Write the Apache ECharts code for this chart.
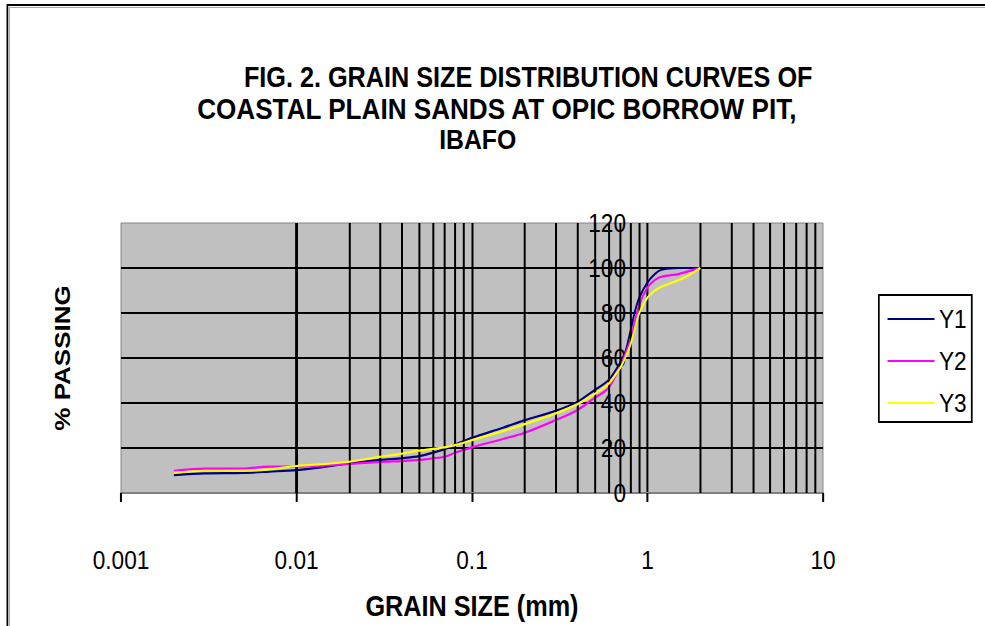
<!DOCTYPE html>
<html>
<head>
<meta charset="utf-8">
<script src="https://cdn.jsdelivr.net/npm/echarts@6/dist/echarts.min.js"></script>
<style>
html,body{margin:0;padding:0;background:#fff;}
#wrap{width:985px;height:626px;overflow:hidden;position:relative;}
#chart{width:1132px;height:626px;transform:scaleX(0.87014);transform-origin:0 0;}
</style>
</head>
<body>
<div id="wrap"><div id="chart"></div></div>
<script>
// grain sizes (mm)
var sizes = [0.002, 0.003, 0.005, 0.007, 0.01, 0.015, 0.02, 0.03, 0.04, 0.05, 0.07, 0.08, 0.1, 0.15, 0.2, 0.3, 0.4, 0.5, 0.6, 0.7, 0.75, 0.8, 0.85, 0.9, 1.0, 1.1, 1.2, 1.5, 1.7, 2.0];
// % passing
var y1 = [7.9, 8.7, 8.9, 9.5, 10.2, 11.8, 13.2, 14.7, 15.5, 16.4, 19.5, 21.5, 24.5, 29.0, 32.4, 36.5, 40.6, 45.8, 50.2, 58.0, 63.0, 72.0, 81.0, 87.0, 93.6, 97.3, 99.2, 100, 100, 100];
var y2 = [9.9, 10.8, 10.9, 11.7, 11.7, 12.3, 12.9, 13.8, 14.2, 14.7, 16.1, 17.9, 20.3, 24.0, 26.8, 32.4, 36.9, 42.3, 46.7, 56.4, 62.0, 68.3, 76.5, 84.0, 91.4, 94.6, 96.1, 97.3, 98.5, 100];
var y3 = [9.0, 9.9, 9.9, 10.5, 12.0, 13.0, 13.9, 16.1, 17.5, 18.8, 20.3, 21.3, 23.5, 27.5, 30.6, 35.4, 39.5, 44.0, 48.5, 55.7, 60.5, 66.0, 73.5, 80.2, 86.9, 89.9, 91.7, 94.6, 96.6, 100];
var seriesNames = ['Y1', 'Y2', 'Y3'];
var titleLines = ['FIG. 2. GRAIN SIZE DISTRIBUTION CURVES OF', 'COASTAL PLAIN SANDS AT OPIC BORROW PIT,', 'IBAFO'];
var xName = 'GRAIN SIZE (mm)';
var yName = '% PASSING';
// minor vertical gridlines of the log axis
var minorGrid = [0.002,0.003,0.004,0.005,0.006,0.007,0.008,0.009,
                 0.02,0.03,0.04,0.05,0.06,0.07,0.08,0.09,
                 0.2,0.3,0.4,0.5,0.6,0.7,0.8,0.9,
                 2,3,4,5,6,7,8,9];

var FONT = "'Liberation Sans',Arial,sans-serif";
var colors = ['#000080', '#ff00ff', '#ffff00'];
var ySets = [y1, y2, y3];

function pairs(ys){ return sizes.map(function(s,i){ return [s, ys[i]]; }); }

var chart = echarts.init(document.getElementById('chart'), null, {renderer:'svg'});
var series = [{
  name: '_grid', type: 'line', data: [], z: 1, silent: true,
  markLine: {
    silent: true, symbol: ['none','none'], animation: false,
    label: {show:false},
    lineStyle: {color:'#000', width:2.3, type:'solid'},
    data: minorGrid.map(function(v){ return {xAxis: v}; })
  }
}];
seriesNames.forEach(function(n, i){
  series.push({
    name: n, type: 'line', data: pairs(ySets[i]), z: 3 + i,
    symbol: 'none', smooth: 0.3,
    lineStyle: {color: colors[i], width: 2.2},
    itemStyle: {color: colors[i]}
  });
});

chart.setOption({
  animation: false,
  backgroundColor: '#fff',
  title: [
    {text: titleLines[0], left: 607, top: 63, padding: 0, textAlign: 'center',
     textStyle:{fontFamily:FONT, fontWeight:'bold', fontSize:29, lineHeight:28, color:'#000'}},
    {text: titleLines[1], left: 571, top: 94, padding: 0, textAlign: 'center',
     textStyle:{fontFamily:FONT, fontWeight:'bold', fontSize:30, lineHeight:29, color:'#000'}},
    {text: titleLines[2], left: 549, top: 125, padding: 0, textAlign: 'center',
     textStyle:{fontFamily:FONT, fontWeight:'bold', fontSize:28.5, lineHeight:28, color:'#000'}}
  ],
  graphic: [
    {type:'rect', shape:{x:8.5, y:5, width:1300, height:800}, style:{fill:null, stroke:'#000', lineWidth:2}},
    {type:'rect', shape:{x:11, y:7.5, width:1300, height:800}, style:{fill:null, stroke:'#a0a0a0', lineWidth:1}}
  ],
  legend: {
    data: seriesNames, orient: 'vertical', left: 1010, top: 295,
    padding: [11, 6, 6, 10], itemGap: 16, itemWidth: 54, itemHeight: 2,
    icon: 'rect',
    backgroundColor: '#fff', borderColor: '#000', borderWidth: 2,
    textStyle: {fontFamily: FONT, fontSize: 26, color:'#000', lineHeight: 24}
  },
  grid: {left: 139.1, right: 186.2, top: 223, bottom: 133, show: true,
         backgroundColor: '#c0c0c0', borderColor: '#808080', borderWidth: 1},
  xAxis: {
    type: 'log', logBase: 10, min: 0.001, max: 10,
    name: xName, nameLocation: 'middle', nameGap: 98,
    nameTextStyle: {fontFamily: FONT, fontWeight:'bold', fontSize: 29, color:'#000'},
    axisLine: {show: true, onZero: false, lineStyle: {color: '#808080', width: 2}},
    axisTick: {show: true, length: 9, lineStyle: {color: '#000', width: 2.3}},
    axisLabel: {fontFamily: FONT, fontSize: 26, color:'#000', margin: 54},
    splitLine: {show: true, showMinLine: false, showMaxLine: false, lineStyle: {color:'#000', width: 2.3}},
    minorTick: {show: false}
  },
  yAxis: {
    type: 'value', min: 0, max: 120, interval: 20, position: 'left', offset: -595.3,
    name: yName, nameLocation: 'middle', nameGap: 650, nameRotate: 90,
    nameTextStyle: {fontFamily: FONT, fontWeight:'bold', fontSize: 26, color:'#000'},
    axisLine: {show: false},
    axisTick: {show: false},
    axisLabel: {fontFamily: FONT, fontSize: 26, color:'#000', margin: 15},
    splitLine: {show: true, showMinLine: false, showMaxLine: false, lineStyle: {color:'#000', width: 2}}
  },
  series: series
});
</script>
</body>
</html>
